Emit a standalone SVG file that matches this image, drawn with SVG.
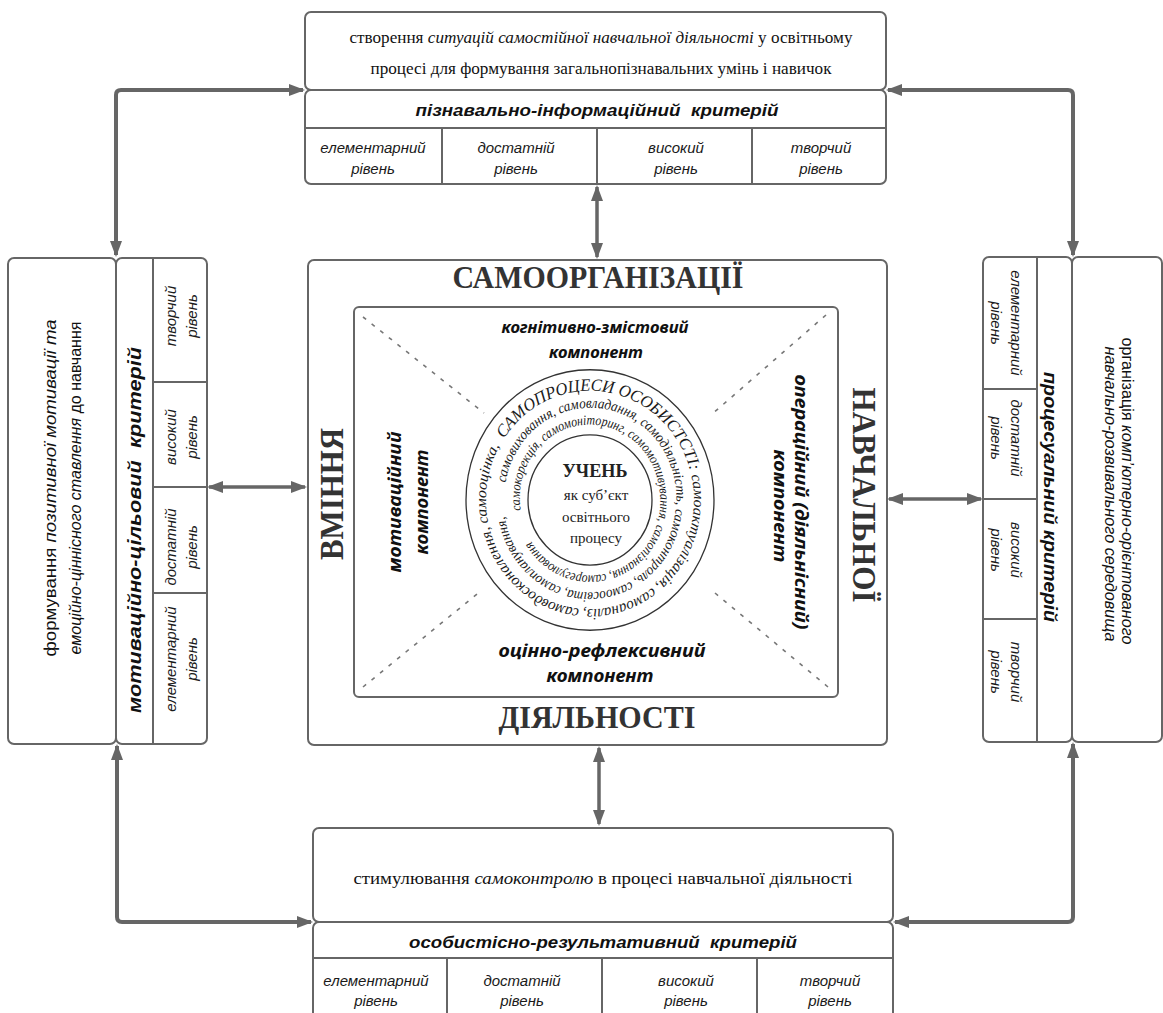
<svg xmlns="http://www.w3.org/2000/svg" width="1163" height="1013" viewBox="0 0 1163 1013">
<style>
.box{fill:#fff;stroke:#666;stroke-width:2}
.ln{fill:none;stroke:#666;stroke-width:2}
.con{fill:none;stroke:#666;stroke-width:4;marker-start:url(#ah);marker-end:url(#ah)}
.con2{fill:none;stroke:#666;stroke-width:3.5;marker-start:url(#ah);marker-end:url(#ah)}
.dash{fill:none;stroke:#777;stroke-width:1.6;stroke-dasharray:4 7}
.lv{font-family:"Liberation Sans",Arial,sans-serif;font-style:italic;font-size:15px;fill:#1a1a1a;text-anchor:middle}
.hd{font-family:"Liberation Sans",Arial,sans-serif;font-style:italic;font-weight:bold;font-size:17px;fill:#111;text-anchor:middle}
.ds{font-family:"Liberation Serif","Times New Roman",serif;font-size:16.5px;fill:#111;text-anchor:middle}
.dss{font-family:"Liberation Sans",Arial,sans-serif;font-size:17px;fill:#111;text-anchor:middle}
.ttl{font-family:"Liberation Serif","Times New Roman",serif;font-weight:bold;font-size:31px;fill:#333;text-anchor:middle}
.cmp{font-family:"Noto Sans","Open Sans",sans-serif;font-weight:bold;font-style:italic;fill:#111;text-anchor:middle}
.ring{font-family:"Liberation Serif","Times New Roman",serif;font-style:italic;fill:#1a1a1a}
.ctr{font-family:"Liberation Serif","Times New Roman",serif;fill:#222;text-anchor:middle}
.it{font-style:italic}
.up{font-style:normal}
</style>
<defs>
<marker id="ah" viewBox="0 0 16 12" refX="14" refY="6" markerWidth="16" markerHeight="12" markerUnits="userSpaceOnUse" orient="auto-start-reverse">
<path d="M0,0 L16,6 L0,12 z" fill="#666"/>
</marker>
<path id="r1" d="M-86.2,-58.2 A104,104 0 1 1 86.2,58.2 A104,104 0 1 1 -86.2,-58.2"/>
<path id="r2" d="M-84.4,-16.4 A86,86 0 1 1 84.4,16.4 A86,86 0 1 1 -84.4,-16.4"/>
<path id="r3" d="M-69.3,9.7 A70,70 0 1 1 69.3,-9.7 A70,70 0 1 1 -69.3,9.7"/>
</defs>

<g id="connectors">
<path class="con" d="M303,90 L121,90 Q116,90 116,95 L116,255"/>
<path class="con" d="M888,90 L1068,90 Q1073,90 1073,95 L1073,255"/>
<path class="con" d="M117,746 L117,917 Q117,922 122,922 L311,922"/>
<path class="con" d="M1073,744 L1073,917 Q1073,922 1068,922 L895,922"/>
<path class="con2" d="M597,187 L597,257"/>
<path class="con2" d="M599,748 L599,824"/>
<path class="con2" d="M209,487 L305,487"/>
<path class="con2" d="M889,499 L981,499"/>
</g>

<g id="top-node">
<rect class="box" x="305" y="12" width="581" height="78" rx="6"/>
<rect class="box" x="305" y="90" width="581" height="94" rx="6"/>
<path class="ln" d="M305,128 H886 M442,128 V184 M597,128 V184 M752,128 V184"/>
<text class="ds" x="601" y="43" textLength="503" lengthAdjust="spacingAndGlyphs">створення <tspan class="it">ситуацій самостійної навчальної діяльності</tspan> у освітньому</text>
<text class="ds" x="601" y="74" textLength="461" lengthAdjust="spacingAndGlyphs">процесі для формування загальнопізнавальних умінь і навичок</text>
<text class="hd" x="597" y="116" textLength="363" lengthAdjust="spacingAndGlyphs">пізнавально-інформаційний&#160; критерій</text>
<text class="lv" x="373" y="153">елементарний</text><text class="lv" x="373" y="174">рівень</text>
<text class="lv" x="516" y="153">достатній</text><text class="lv" x="516" y="174">рівень</text>
<text class="lv" x="676" y="153">високий</text><text class="lv" x="676" y="174">рівень</text>
<text class="lv" x="821" y="153">творчий</text><text class="lv" x="821" y="174">рівень</text>
</g>

<g id="left-node">
<rect class="box" x="8" y="258" width="108" height="486" rx="6"/>
<rect class="box" x="116" y="258" width="91" height="486" rx="6"/>
<path class="ln" d="M153,258 V744 M153,382 H207 M153,487 H207 M153,593 H207"/>
<text class="dss" transform="translate(56,488) rotate(-90)" textLength="337" lengthAdjust="spacingAndGlyphs">формування <tspan class="it">позитивної мотивації та</tspan></text>
<text class="dss" transform="translate(81,488) rotate(-90)" textLength="333" lengthAdjust="spacingAndGlyphs"><tspan class="it">емоційно-ціннісного ставлення</tspan> до навчання</text>
<text class="hd" style="font-size:18px" transform="translate(141,530) rotate(-90)" textLength="366" lengthAdjust="spacingAndGlyphs">мотиваційно-цільовий&#160; критерій</text>
<text class="lv" transform="translate(176,316) rotate(-90)">творчий</text><text class="lv" transform="translate(197,316) rotate(-90)">рівень</text>
<text class="lv" transform="translate(176,437) rotate(-90)">високий</text><text class="lv" transform="translate(197,437) rotate(-90)">рівень</text>
<text class="lv" transform="translate(176,547) rotate(-90)">достатній</text><text class="lv" transform="translate(197,547) rotate(-90)">рівень</text>
<text class="lv" transform="translate(176,659) rotate(-90)">елементарний</text><text class="lv" transform="translate(197,659) rotate(-90)">рівень</text>
</g>

<g id="right-node">
<rect class="box" x="983" y="257" width="89" height="485" rx="6"/>
<rect class="box" x="1072" y="257" width="90" height="485" rx="6"/>
<path class="ln" d="M1037,257 V742 M983,389 H1037 M983,499 H1037 M983,619 H1037"/>
<text class="dss" transform="translate(1122,491) rotate(90)" textLength="307" lengthAdjust="spacingAndGlyphs">організація <tspan class="it">комп’ютерно-орієнтованого</tspan></text>
<text class="dss it" transform="translate(1105,494) rotate(90)" textLength="295" lengthAdjust="spacingAndGlyphs">навчально-розвивального середовища</text>
<text class="hd" style="font-size:18px" transform="translate(1044,497) rotate(90)" textLength="250" lengthAdjust="spacingAndGlyphs">процесуальний критерій</text>
<text class="lv" transform="translate(1011,323) rotate(90)">елементарний</text><text class="lv" transform="translate(991,323) rotate(90)">рівень</text>
<text class="lv" transform="translate(1011,438) rotate(90)">достатній</text><text class="lv" transform="translate(991,438) rotate(90)">рівень</text>
<text class="lv" transform="translate(1011,550) rotate(90)">високий</text><text class="lv" transform="translate(991,550) rotate(90)">рівень</text>
<text class="lv" transform="translate(1011,672) rotate(90)">творчий</text><text class="lv" transform="translate(991,672) rotate(90)">рівень</text>
</g>

<g id="bottom-node">
<rect class="box" x="313" y="828" width="580" height="94" rx="6"/>
<rect class="box" x="313" y="922" width="580" height="100" rx="6"/>
<path class="ln" d="M313,958 H893 M447,958 V1013 M602,958 V1013 M757,958 V1013"/>
<text class="ds" x="603" y="884" textLength="499" lengthAdjust="spacingAndGlyphs">стимулювання <tspan class="it">самоконтролю</tspan> в процесі навчальної діяльності</text>
<text class="hd" x="603" y="948" textLength="388" lengthAdjust="spacingAndGlyphs">особистісно-результативний&#160; критерій</text>
<text class="lv" x="376" y="986">елементарний</text><text class="lv" x="376" y="1006">рівень</text>
<text class="lv" x="522" y="986">достатній</text><text class="lv" x="522" y="1006">рівень</text>
<text class="lv" x="686" y="986">високий</text><text class="lv" x="686" y="1006">рівень</text>
<text class="lv" x="830" y="986">творчий</text><text class="lv" x="830" y="1006">рівень</text>
</g>

<g id="center-node">
<rect class="box" x="308" y="260" width="579" height="485" rx="6"/>
<rect class="box" x="354" y="307" width="484" height="390" rx="5"/>
<text class="ttl" x="598" y="288" textLength="291" lengthAdjust="spacingAndGlyphs">САМООРГАНІЗАЦІЇ</text>
<text class="ttl" x="597" y="728" textLength="197" lengthAdjust="spacingAndGlyphs">ДІЯЛЬНОСТІ</text>
<text class="ttl" style="font-size:34px" transform="translate(343,494) rotate(-90)" textLength="132" lengthAdjust="spacingAndGlyphs">ВМІННЯ</text>
<text class="ttl" style="font-size:33px" transform="translate(853,495) rotate(90)" textLength="215" lengthAdjust="spacingAndGlyphs">НАВЧАЛЬНОЇ</text>
<g id="dashes">
<path class="dash" d="M363,317 L484,413 M826,315 L711,415 M363,687 L482,590 M828,687 L715,593"/>
</g>
<text class="cmp" style="font-size:16px" x="595" y="333" textLength="187" lengthAdjust="spacingAndGlyphs">когнітивно-змістовий</text>
<text class="cmp" style="font-size:16px" x="596" y="358" textLength="94" lengthAdjust="spacingAndGlyphs">компонент</text>
<text class="cmp" style="font-size:18px" x="602" y="657" textLength="207" lengthAdjust="spacingAndGlyphs">оцінно-рефлексивний</text>
<text class="cmp" style="font-size:18px" x="600" y="682" textLength="107" lengthAdjust="spacingAndGlyphs">компонент</text>
<text class="cmp" style="font-size:18px" transform="translate(401,502) rotate(-90)" textLength="141" lengthAdjust="spacingAndGlyphs">мотиваційний</text>
<text class="cmp" style="font-size:18px" transform="translate(428,502) rotate(-90)" textLength="105" lengthAdjust="spacingAndGlyphs">компонент</text>
<text class="cmp" style="font-size:18px" transform="translate(795,502) rotate(90)" textLength="255" lengthAdjust="spacingAndGlyphs">операційний (діяльнісний)</text>
<text class="cmp" style="font-size:18px" transform="translate(774,506) rotate(90)" textLength="113" lengthAdjust="spacingAndGlyphs">компонент</text>
</g>

<g id="core-node">
<g transform="translate(590,500) scale(1,1.05)">
<circle cx="0" cy="0" r="124" fill="none" stroke="#333" stroke-width="1.3"/>
<circle cx="0" cy="0" r="62" fill="none" stroke="#333" stroke-width="1.3"/>
<text class="ring" style="font-size:15px"><textPath href="#r1" textLength="645" lengthAdjust="spacingAndGlyphs"><tspan style="font-size:16.5px">САМОПРОЦЕСИ ОСОБИСТСТІ:</tspan> самоактуалізація, самоаналіз, самовдосконалення, самооцінка,</textPath></text>
<text class="ring" style="font-size:14px"><textPath href="#r2" textLength="515" lengthAdjust="spacingAndGlyphs">самовиховання, самовладання, самодіяльність, самоконтроль, самоосвіта, самопланування,</textPath></text>
<text class="ring" style="font-size:13.5px"><textPath href="#r3" textLength="415" lengthAdjust="spacingAndGlyphs">самокорекція, самомоніторинг, самомотивування, самопізнання, саморегулювання</textPath></text>
</g>
<text class="ctr" x="595" y="477" style="font-size:19px;font-weight:bold" textLength="65" lengthAdjust="spacingAndGlyphs">УЧЕНЬ</text>
<text class="ctr" x="596" y="500" style="font-size:15px">як суб’єкт</text>
<text class="ctr" x="596" y="522" style="font-size:15px">освітнього</text>
<text class="ctr" x="596" y="543" style="font-size:15px">процесу</text>
</g>
</svg>
